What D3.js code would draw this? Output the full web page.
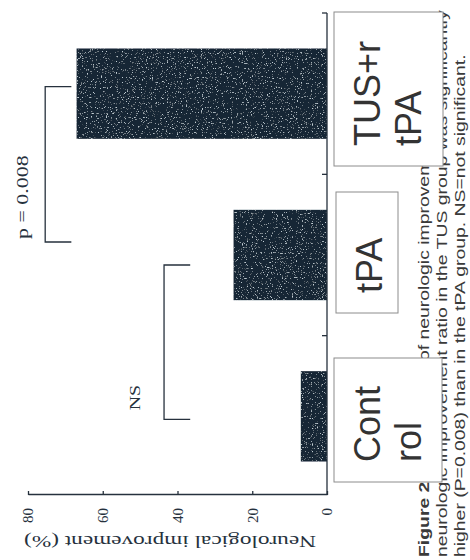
<!DOCTYPE html>
<html>
<head>
<meta charset="utf-8">
<script src="https://cdn.jsdelivr.net/npm/d3@7"></script>
<style>
  body { margin: 0; background: #fff; }
</style>
</head>
<body>
<svg id="chart" width="470" height="560"></svg>
<script>
const categories = ["Control", "tPA", "TUS+rtPA"];
const improvement = [7, 25, 67];
const tickValues = [0, 20, 40, 60, 80];
const boxLabels = [["Cont", "rol"], ["tPA"], ["TUS+r", "tPA"]];
const comparisons = [["Control", "tPA", "NS"], ["tPA", "TUS+rtPA", "p = 0.008"]];
const axisTitle = "Neurological improvement (%)";
const captionLines = [
  ["Figure 2.", " Comparison of neurologic improvement ratio. The"],
  ["", "neurologic improvement ratio in the TUS group was significantly"],
  ["", "higher (P=0.008) than in the tPA group. NS=not significant."]
];

var ink = "#26313d",
    serif = "'Liberation Serif', 'DejaVu Serif', serif",
    sans = "'Liberation Sans', Arial, sans-serif",
    stretch = 1.33;   // the scan is stretched along the text direction

var svg = d3.select("#chart");
var defs = svg.append("defs");

// speckled print texture for the bars
var grain = defs.append("filter").attr("id", "grain")
    .attr("x", 0).attr("y", 0).attr("width", 1).attr("height", 1);
grain.append("feTurbulence").attr("type", "fractalNoise")
    .attr("baseFrequency", 0.8).attr("numOctaves", 2).attr("seed", 4).attr("result", "noise");
grain.append("feColorMatrix").attr("in", "noise").attr("type", "matrix")
    .attr("values", "0 0 0 0 0.55  0 0 0 0 0.63  0 0 0 0 0.68  6 0 0 0 -3.75")
    .attr("result", "dots");
grain.append("feComposite").attr("in", "dots").attr("in2", "SourceGraphic")
    .attr("operator", "in").attr("result", "dotsIn");
var merge = grain.append("feMerge");
merge.append("feMergeNode").attr("in", "SourceGraphic");
merge.append("feMergeNode").attr("in", "dotsIn");

// the whole page was turned a quarter turn counter-clockwise
var page = svg.append("g").attr("transform", "translate(0,560) rotate(-90)");

var x = d3.scaleBand()
    .domain(categories)
    .range([63, 547])
    .paddingInner(0.44)
    .paddingOuter(0.22);

var y = d3.scaleLinear()
    .domain([0, 80])
    .range([327, 28]);

// bars
page.selectAll("rect.bar")
    .data(categories)
    .join("rect")
    .attr("class", "bar")
    .attr("x", function(d) { return x(d); })
    .attr("y", function(d, i) { return y(improvement[i]); })
    .attr("width", x.bandwidth())
    .attr("height", function(d, i) { return y(0) - y(improvement[i]); })
    .attr("fill", "#182735")
    .attr("filter", "url(#grain)");

// value axis
var yAxis = page.append("g")
    .attr("transform", "translate(65,0)")
    .call(d3.axisLeft(y).tickValues(tickValues).tickSizeInner(-4).tickSizeOuter(0).tickPadding(13));
yAxis.select(".domain").attr("stroke", ink).attr("stroke-width", 1.3);
yAxis.selectAll(".tick line").attr("stroke", ink).attr("stroke-width", 1.3);
yAxis.selectAll(".tick text")
    .attr("fill", ink)
    .style("font-family", serif)
    .style("font-size", "15px");

page.append("text")
    .attr("transform", "translate(24,170) rotate(-90) scale(" + stretch + ",1)")
    .attr("text-anchor", "middle")
    .attr("fill", ink)
    .style("font-family", serif)
    .style("font-size", "17.5px")
    .text(axisTitle);

// category baseline with ticks at band edges
var x0 = x.range()[0], x1 = x.range()[1];
page.append("line")
    .attr("x1", 65).attr("x2", x1)
    .attr("y1", y(0)).attr("y2", y(0))
    .attr("stroke", ink).attr("stroke-width", 1.3);
var edges = categories.map(function(d, i) { return x0 + i * x.step(); }).concat([x1]);
page.selectAll("line.edge")
    .data(edges.slice(1))
    .join("line")
    .attr("class", "edge")
    .attr("x1", function(d) { return d; }).attr("x2", function(d) { return d; })
    .attr("y1", y(0)).attr("y2", y(0) - 5)
    .attr("stroke", ink).attr("stroke-width", 1.3);

// significance brackets
var bracketLevel = { "NS": 43.6, "p = 0.008": 75.4 },
    bracketShift = { "NS": [-3, -10], "p = 0.008": [13, 7] },
    labelShift = { "NS": [9, 24], "p = 0.008": [3, 17] },
    legLength = 7;
comparisons.forEach(function(c) {
  var a = x(c[0]) + x.bandwidth() / 2 + bracketShift[c[2]][0],
      b = x(c[1]) + x.bandwidth() / 2 + bracketShift[c[2]][1],
      top = y(bracketLevel[c[2]]),
      foot = y(bracketLevel[c[2]] - legLength);
  page.append("path")
      .attr("d", "M" + a + "," + foot + "V" + top + "H" + b + "V" + foot)
      .attr("fill", "none")
      .attr("stroke", ink)
      .attr("stroke-width", 1.3);
  page.append("text")
      .attr("transform", "translate(" + (a + labelShift[c[2]][0]) + "," + (top - labelShift[c[2]][1]) + ") scale(" + stretch + ",1)")
      .attr("fill", ink)
      .style("font-family", serif)
      .style("font-size", c[2] === "NS" ? "15px" : "16.5px")
      .text(c[2]);
});

// caption under the figure
captionLines.forEach(function(line, i) {
  var t = page.append("text")
      .attr("transform", "translate(3," + (429 + i * 18) + ") scale(1.336,1)")
      .attr("fill", "#3a3a3a")
      .style("font-family", sans)
      .style("font-size", "14.5px");
  if (line[0]) t.append("tspan").style("font-weight", "bold").text(line[0]);
  t.append("tspan").text(line[1]);
});

// pasted label boxes
var boxes = [
  { u: 78,  v: 334, w: 124, h: 108 },
  { u: 247, v: 336, w: 121, h: 62 },
  { u: 394, v: 334, w: 154, h: 109 }
];
boxes.forEach(function(b, i) {
  var g = page.append("g");
  g.append("rect")
      .attr("x", b.u).attr("y", b.v)
      .attr("width", b.w).attr("height", b.h)
      .attr("fill", "#fff")
      .attr("stroke", "#8c8c8c")
      .attr("stroke-width", 1);
  g.selectAll("text")
      .data(boxLabels[i])
      .join("text")
      .attr("x", b.u + 20)
      .attr("y", function(d, j) { return b.v + 46 + j * 41; })
      .attr("fill", "#333")
      .style("font-family", sans)
      .style("font-size", "36px")
      .text(function(d) { return d; });
});
</script>
</body>
</html>
